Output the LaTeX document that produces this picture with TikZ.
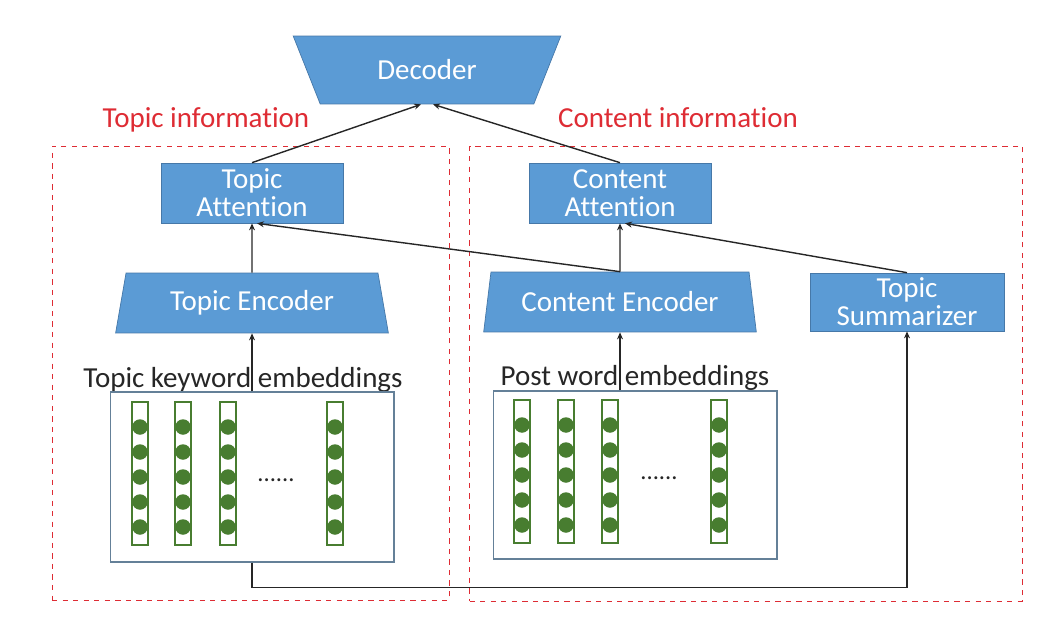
\documentclass[tikz,border=0pt]{standalone}
\usepackage{fontspec}
\setmainfont{Carlito}[Ligatures=NoCommon]
\usepackage{tikz}
\usetikzlibrary{positioning, arrows.meta, shapes.geometric, calc}
\definecolor{ModelBlue}{RGB}{91,155,213}
\definecolor{ModelEdge}{RGB}{70,120,168}
\definecolor{InfoRed}{RGB}{222,44,52}
\definecolor{EmbGreen}{RGB}{72,125,48}
\definecolor{EmbFrame}{RGB}{100,128,152}
\tikzset{
  block/.style={draw=ModelEdge, line width=0.4pt, fill=ModelBlue, text=white,
    font=\fontsize{16.5}{16}\selectfont, align=center, inner sep=0pt},
  attbox/.style={block, rectangle, minimum width=3.64cm, minimum height=1.2cm},
  encbox/.style={block, trapezium, trapezium stretches=true, trapezium angle=74.7,
    minimum width=5.46cm, minimum height=1.2cm},
  infoframe/.style={draw=InfoRed, dashed, line width=0.5pt, rectangle, inner sep=0pt},
  infolabel/.style={text=InfoRed, font=\fontsize{16.5}{16}\selectfont, anchor=base, inner sep=0pt},
  embbox/.style={draw=EmbFrame, line width=0.6pt, rectangle, minimum width=5.68cm, inner sep=0pt},
  emblabel/.style={text=black!85, font=\fontsize{16.5}{16}\selectfont, anchor=base, inner sep=0pt},
  link/.style={draw=black!85, line width=0.8pt, -{Stealth[length=4pt,width=3.4pt]}}
}
\begin{document}
\begin{tikzpicture}[x=0.02cm, y=-0.02cm]
  \useasboundingbox (0,0) rectangle (1039,619);
  % frames and their labels
  \node[infoframe, minimum width=7.94cm, minimum height=9.08cm] (tframe) at (250.5,373) {};
  \node[infoframe, minimum width=11.06cm, minimum height=9.1cm] (cframe) at (746,373.5) {};
  \node[infolabel] (tinfo) at (206,127) {Topic information};
  \node[infolabel] (cinfo) at (678,127) {Content information};
  % model blocks
  \node[block, trapezium, trapezium stretches=true, trapezium left angle=121.7, trapezium right angle=121.7,
    minimum width=5.36cm, minimum height=1.36cm] (dec) at (427,70) {Decoder};
  \node[attbox] (tatt) at (252,193) {Topic\\Attention};
  \node[attbox] (catt) at (620,193) {Content\\Attention};
  \node[encbox] (tenc) at (252,303) {Topic Encoder};
  \node[encbox] (cenc) at (620,302) {Content Encoder};
  \node[block, rectangle, minimum width=3.88cm, minimum height=1.16cm] (tsum) at (907,302) {Topic\\Summarizer};
  % embeddings
  \node[emblabel] (tklabel) at (243,387) {Topic keyword embeddings};
  \node[emblabel] (pwlabel) at (635,385) {Post word embeddings};
  \node[embbox, minimum height=3.4cm] (tkbox) at (252,477) {};
  \node[embbox, minimum height=3.36cm] (pwbox) at (635,475) {};
  \foreach \cx in {140,183,228,335} {
    \draw[EmbGreen, line width=1.1pt] (\cx-8,402) rectangle (\cx+8,545);
    \foreach \cy in {427,452,477,502,527}
      \fill[EmbGreen] (\cx,\cy) circle[radius=0.155cm];
  }
  \foreach \cx in {522,566,610,719} {
    \draw[EmbGreen, line width=1.1pt] (\cx-8,400) rectangle (\cx+8,543);
    \foreach \cy in {425,450,475,500,525}
      \fill[EmbGreen] (\cx,\cy) circle[radius=0.155cm];
  }
  \node[emblabel, font=\fontsize{14}{16}\selectfont] (tdots) at (276,481) {......};
  \node[emblabel, font=\fontsize{14}{16}\selectfont] (pdots) at (659,479) {......};
  % connectors
  \draw[link] (tkbox.north -| tenc.south) -- (tenc.south);
  \draw[link] (pwbox.north -| cenc.south) -- (cenc.south);
  \draw[link] (tkbox.south) -- ++(0,25) -| (tsum.south);
  \draw[link] (tenc.north) -- (tatt.south);
  \draw[link] (cenc.north) -- (catt.south);
  \draw[link] (cenc.north) -- ($(tatt.south)+(5,0)$);
  \draw[link] (tsum.north) -- ($(catt.south)+(5,0)$);
  \draw[link] (tatt.north) -- ($(dec.south)+(-6,0)$);
  \draw[link] (catt.north) -- ($(dec.south)+(6,0)$);
\end{tikzpicture}
\end{document}
